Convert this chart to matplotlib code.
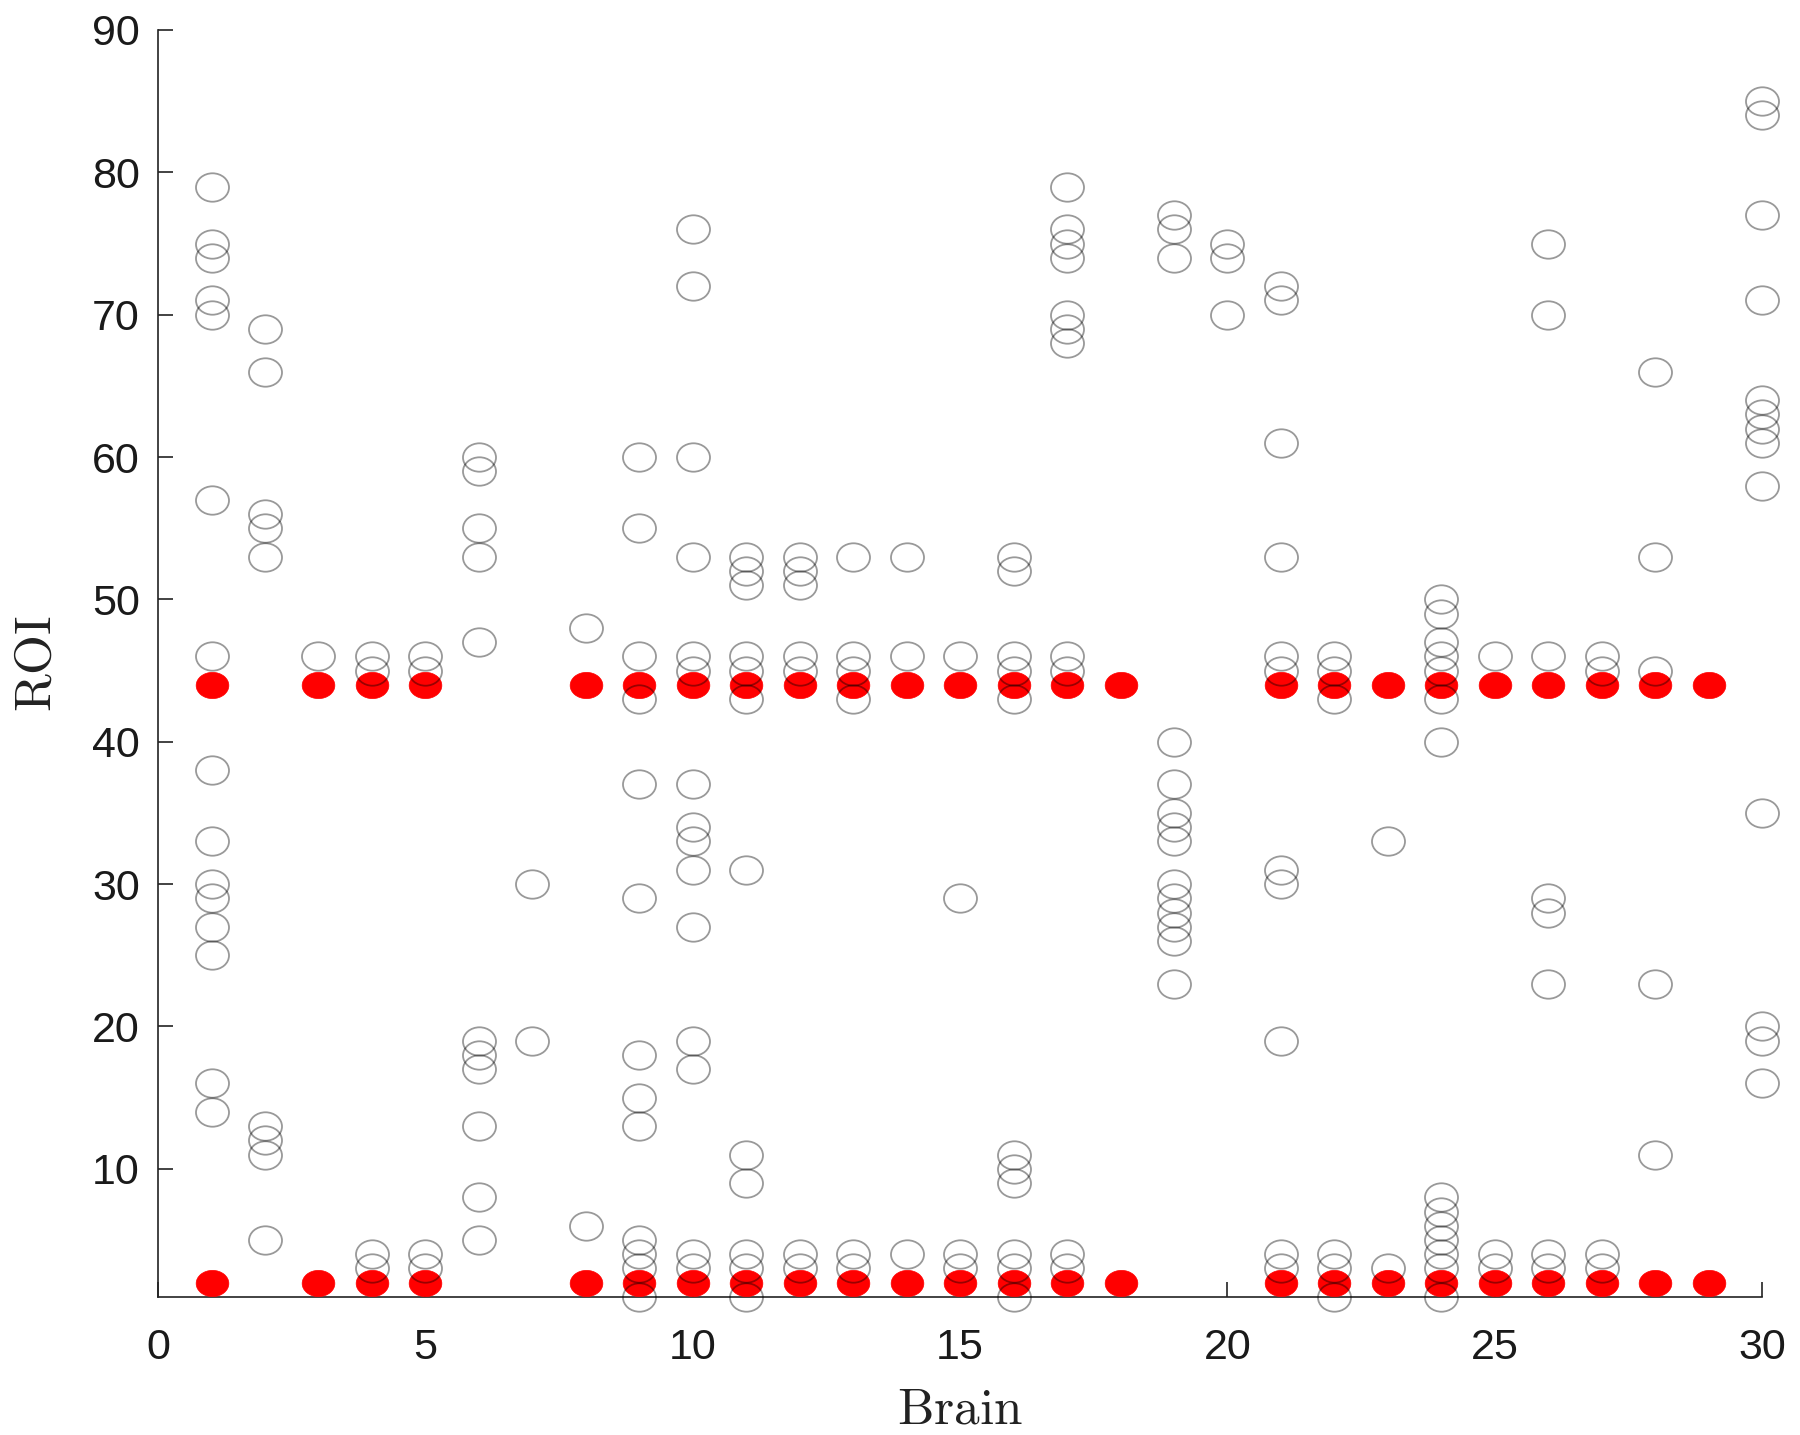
import matplotlib
matplotlib.use("Agg")
import matplotlib.pyplot as plt
from matplotlib.markers import MarkerStyle
from matplotlib.transforms import Affine2D

# ---- data ----
brains = list(range(1, 31))
# ROIs marked with open circles, per brain (index 0 -> brain 1)
open_roi = [
    [79, 75, 74, 71, 70, 57, 46, 38, 33, 30, 29, 27, 25, 16, 14],   # 1
    [69, 66, 56, 55, 53, 13, 12, 11, 5],                            # 2
    [46],                                                           # 3
    [46, 45, 4, 3],                                                 # 4
    [46, 45, 4, 3],                                                 # 5
    [60, 59, 55, 53, 47, 19, 18, 17, 13, 8, 5],                     # 6
    [30, 19],                                                       # 7
    [48, 6],                                                        # 8
    [60, 55, 46, 43, 37, 29, 18, 15, 13, 5, 4, 3, 1],               # 9
    [76, 72, 60, 53, 46, 45, 37, 34, 33, 31, 27, 19, 17, 4, 3],     # 10
    [53, 52, 51, 46, 45, 43, 31, 11, 9, 4, 3, 1],                   # 11
    [53, 52, 51, 46, 45, 4, 3],                                     # 12
    [53, 46, 45, 43, 4, 3],                                         # 13
    [53, 46, 4],                                                    # 14
    [46, 29, 4, 3],                                                 # 15
    [53, 52, 46, 45, 43, 11, 10, 9, 4, 3, 1],                       # 16
    [79, 76, 75, 74, 70, 69, 68, 46, 45, 4, 3],                     # 17
    [],                                                             # 18
    [77, 76, 74, 40, 37, 35, 34, 33, 30, 29, 28, 27, 26, 23],       # 19
    [75, 74, 70],                                                   # 20
    [72, 71, 61, 53, 46, 45, 31, 30, 19, 4, 3],                     # 21
    [46, 45, 43, 4, 3, 1],                                          # 22
    [33, 3],                                                        # 23
    [50, 49, 47, 46, 45, 43, 40, 8, 7, 6, 5, 4, 3, 1],              # 24
    [46, 4, 3],                                                     # 25
    [75, 70, 46, 29, 28, 23, 4, 3],                                 # 26
    [46, 45, 4, 3],                                                 # 27
    [66, 53, 45, 23, 11],                                           # 28
    [],                                                             # 29
    [85, 84, 77, 71, 64, 63, 62, 61, 58, 35, 20, 19, 16],           # 30
]
# brains with the filled red markers, at ROI 44 and ROI 2
red_brains = [1, 3, 4, 5, 8, 9, 10, 11, 12, 13, 14, 15, 16, 17, 18,
              21, 22, 23, 24, 25, 26, 27, 28, 29]
red_rois = [44, 2]

x_ticks = [0, 5, 10, 15, 20, 25, 30]
y_ticks = [10, 20, 30, 40, 50, 60, 70, 80, 90]

# ---- figure ----
plt.rcParams['mathtext.fontset'] = 'cm'
fig = plt.figure(figsize=(18, 14.35), dpi=100)
ax = fig.add_axes([0.0878, 0.0962, 0.8912, 0.8829])

ell_red = MarkerStyle('o', transform=Affine2D().scale(1.12, 0.9))
ell_open = MarkerStyle('o', transform=Affine2D().scale(1.08, 0.93))

for r in red_rois:
    ax.plot(red_brains, [r] * len(red_brains), linestyle='none', marker=ell_red,
            markersize=21, markerfacecolor='#ff0000', markeredgecolor='#ff0000',
            markeredgewidth=0.5, clip_on=False, zorder=3)

ox, oy = [], []
for b, rois in zip(brains, open_roi):
    for r in rois:
        ox.append(b)
        oy.append(r)
ax.plot(ox, oy, linestyle='none', marker=ell_open, markersize=22,
        markerfacecolor='none', markeredgecolor=(0, 0, 0, 0.40),
        markeredgewidth=1.3, clip_on=False, zorder=4)

ax.set_xlim(0, 30)
ax.set_ylim(1, 90)
ax.set_xticks(x_ticks)
ax.set_yticks(y_ticks)
ax.spines['top'].set_visible(False)
ax.spines['right'].set_visible(False)
for s in ('left', 'bottom'):
    ax.spines[s].set_linewidth(1.2)
    ax.spines[s].set_color('#222222')
ax.tick_params(direction='in', length=10.5, width=1.2, colors='#222222',
               labelsize=31, labelcolor='#1a1a1a')
ax.tick_params(axis='x', pad=22)
ax.tick_params(axis='y', pad=13)
for lab in ax.get_xticklabels() + ax.get_yticklabels():
    lab.set_fontfamily('Liberation Sans')

ax.set_xlabel(r'$\mathrm{Brain}$', fontsize=37, labelpad=12, color='#222222')
ax.set_ylabel(r'$\mathrm{ROI}$', fontsize=37, labelpad=22, color='#222222')

fig.savefig('out.png', dpi=100, facecolor='white')
